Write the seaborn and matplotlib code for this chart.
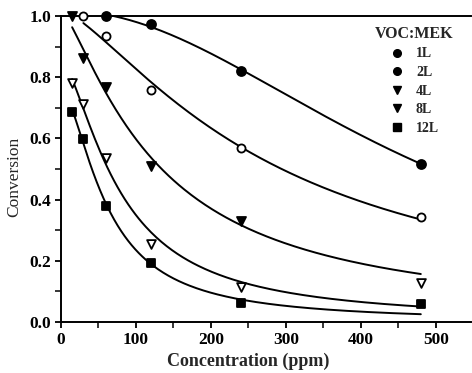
import numpy as np
import pandas as pd
import matplotlib
matplotlib.use("Agg")
import matplotlib.pyplot as plt
from matplotlib.lines import Line2D
from matplotlib.ticker import MultipleLocator
import seaborn as sns

# ---- data ----
series_names = ["1L", "2L", "4L", "8L", "12L"]
conc_1L = [60, 120, 240, 480]
conv_1L = [1.0, 0.974, 0.821, 0.516]
conc_2L = [30, 60, 120, 240, 480]
conv_2L = [1.0, 0.935, 0.758, 0.569, 0.342]
conc_4L = [15, 30, 60, 120, 240]
conv_4L = [1.0, 0.862, 0.767, 0.51, 0.33]
conc_8L = [15, 30, 60, 120, 240, 480]
conv_8L = [0.78, 0.712, 0.535, 0.255, 0.115, 0.127]
conc_12L = [15, 30, 60, 120, 240, 480]
conv_12L = [0.687, 0.597, 0.379, 0.192, 0.061, 0.059]
curve_end = 480

x_ticks = [0, 100, 200, 300, 400, 500]
y_ticks = [0.0, 0.2, 0.4, 0.6, 0.8, 1.0]

concs = [conc_1L, conc_2L, conc_4L, conc_8L, conc_12L]
convs = [conv_1L, conv_2L, conv_4L, conv_8L, conv_12L]

rows = []
for name, xs, ys in zip(series_names, concs, convs):
    for xv, yv in zip(xs, ys):
        rows.append({"series": name, "conc": xv, "conv": yv})
df = pd.DataFrame(rows)


def fit_curve(xs, ys):
    """Least-squares fit of y = a / (1 + (x/b)^c)."""
    x = np.asarray(xs, float)
    y = np.asarray(ys, float)
    bs = np.logspace(0.5, 3.5, 300)
    cs = np.linspace(0.3, 4.0, 250)
    B, C = np.meshgrid(bs, cs, indexing="ij")
    g = 1.0 / (1.0 + (x[None, None, :] / B[..., None]) ** C[..., None])
    a = (g * y).sum(-1) / (g * g).sum(-1)
    a = np.clip(a, 0, 1.02)
    sse = ((a[..., None] * g - y) ** 2).sum(-1)
    i, j = np.unravel_index(np.argmin(sse), sse.shape)
    return a[i, j], bs[i], cs[j]


curve_rows = []
for name, xs, ys in zip(series_names, concs, convs):
    a, b, c = fit_curve(xs, ys)
    xx = np.linspace(xs[0], curve_end, 200)
    yy = a / (1 + (xx / b) ** c)
    for xv, yv in zip(xx, yy):
        curve_rows.append({"series": name, "conc": xv, "conv": yv})
curves = pd.DataFrame(curve_rows)

# ---- plotting ----
sns.set_style("ticks")
plt.rcParams["font.family"] = ["Liberation Serif", "DejaVu Serif"]
plt.rcParams["font.weight"] = "bold"

fig = plt.figure(figsize=(4.72, 3.73), dpi=100)
ax = fig.add_axes([0.129, 0.137, 0.869, 0.820])

sns.lineplot(data=curves, x="conc", y="conv", units="series", estimator=None,
             color="black", linewidth=1.4, sort=False, ax=ax, legend=False)

markers = {"1L": "o", "2L": "o", "4L": "v", "8L": "v", "12L": "s"}
faces = {"1L": "black", "2L": "white", "4L": "black", "8L": "white", "12L": "black"}
sizes = {"1L": 42, "2L": 34, "4L": 42, "8L": 40, "12L": 40}
for name in series_names:
    sub = df[df["series"] == name]
    sns.scatterplot(data=sub, x="conc", y="conv", marker=markers[name],
                    color=faces[name], edgecolor="black", linewidth=1.3,
                    s=sizes[name], ax=ax, legend=False, zorder=5, clip_on=False)

ax.set_xlim(0, 547)
ax.set_ylim(0, 1.0)
ax.set_xticks(x_ticks)
ax.set_yticks(y_ticks)
ax.set_yticklabels([f"{v:.1f}" for v in y_ticks])
ax.xaxis.set_minor_locator(MultipleLocator(50))
ax.yaxis.set_minor_locator(MultipleLocator(0.1))
ax.tick_params(which="major", direction="out", length=4, width=1.3,
               labelsize=12.5, colors="black", pad=3)
ax.tick_params(which="minor", direction="out", length=4, width=1.3)
for lab in ax.get_xticklabels() + ax.get_yticklabels():
    lab.set_fontweight("bold")

for side in ["left", "bottom", "top"]:
    ax.spines[side].set_visible(True)
    ax.spines[side].set_linewidth(1.4)
    ax.spines[side].set_color("black")
ax.spines["right"].set_visible(False)

ax.set_xlabel("Concentration (ppm)", fontsize=13, fontweight="bold")
ax.xaxis.set_label_coords(0.456, -0.102)
ax.set_ylabel("Conversion", fontsize=12.5, fontweight="normal")
ax.yaxis.set_label_coords(-0.093, 0.474)

handles = [Line2D([], [], linestyle="none", marker=markers[n], color="black",
                  markersize=5.5) for n in series_names]
leg = ax.legend(handles, series_names, title="VOC:MEK", frameon=False,
                loc="upper center", bbox_to_anchor=(0.86, 0.995),
                prop={"weight": "bold", "size": 10}, handletextpad=0.8,
                handlelength=1.2, labelspacing=0.40, borderaxespad=0.2)
leg.get_title().set_fontweight("bold")
leg.get_title().set_fontsize(11.5)

fig.savefig("out.png", dpi=100)
